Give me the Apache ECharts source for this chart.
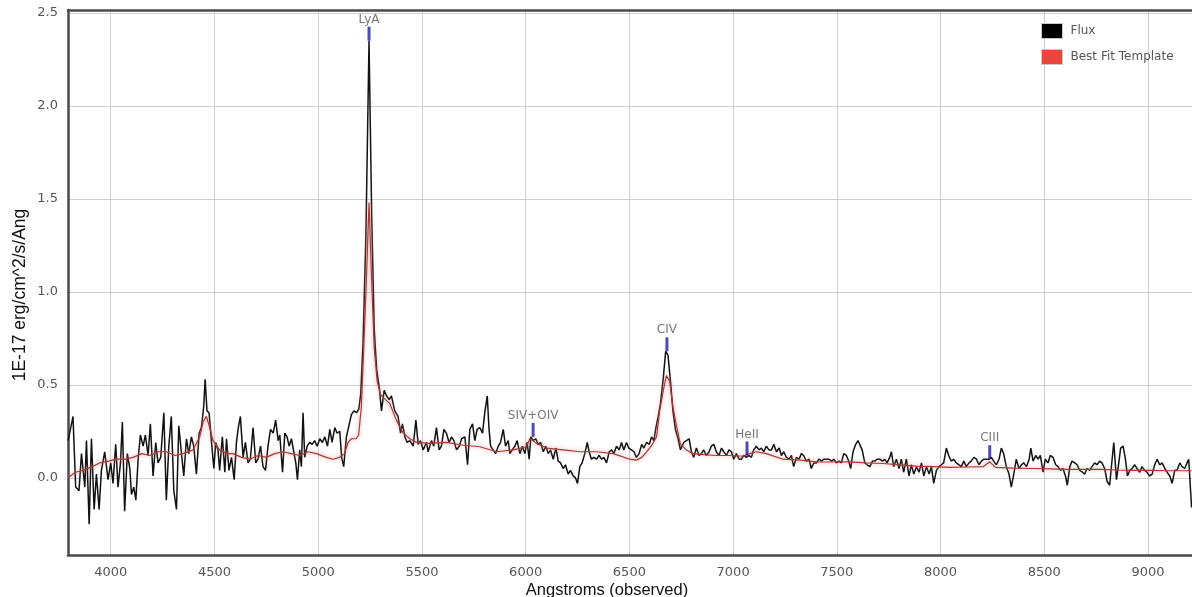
<!DOCTYPE html>
<html><head><meta charset="utf-8">
<script src="https://cdn.jsdelivr.net/npm/echarts@6/dist/echarts.min.js"></script>
<style>html,body{margin:0;padding:0;background:#fff}#c{width:1192px;height:597px}</style>
</head><body><div id="c"></div>
<script>
// Observed wavelength (Angstrom) and flux (1E-17 erg/cm^2/s/Ang)
const fluxWave = [3794,3802,3818,3831,3847,3859,3875,3883,3896,3907,3920,3931,3944,3955,3971,3987,4000,4011,4024,4035,4047,4056,4067,4080,4092,4100,4111,4121,4132,4143,4156,4167,4180,4191,4204,4217,4228,4241,4256,4268,4280,4292,4304,4317,4328,4341,4352,4365,4376,4389,4400,4413,4426,4437,4448,4455,4464,4474,4485,4497,4506,4517,4525,4538,4550,4558,4570,4582,4595,4606,4615,4625,4638,4649,4662,4673,4686,4699,4710,4722,4734,4746,4758,4770,4783,4795,4807,4815,4828,4839,4850,4860,4871,4879,4892,4900,4911,4919,4927,4935,4947,4959,4971,4983,4995,5008,5020,5032,5045,5056,5067,5080,5091,5104,5113,5123,5136,5146,5160,5172,5185,5196,5205,5216,5230,5245,5258,5270,5282,5295,5305,5318,5330,5342,5353,5361,5369,5385,5397,5406,5418,5429,5442,5458,5471,5482,5493,5506,5522,5530,5546,5557,5570,5583,5594,5606,5618,5631,5643,5654,5667,5680,5691,5707,5720,5731,5744,5755,5766,5779,5792,5803,5815,5823,5831,5843,5855,5868,5879,5892,5903,5916,5924,5935,5948,5959,5972,5985,5996,6007,6017,6025,6036,6049,6060,6072,6085,6097,6109,6120,6133,6146,6157,6168,6181,6192,6205,6216,6229,6240,6250,6261,6272,6285,6297,6306,6317,6329,6342,6354,6366,6377,6390,6403,6414,6425,6438,6451,6462,6473,6486,6497,6510,6522,6534,6547,6559,6570,6583,6596,6607,6618,6628,6639,6650,6662,6675,6686,6698,6710,6722,6735,6746,6762,6775,6788,6799,6810,6823,6836,6847,6858,6871,6884,6895,6907,6919,6932,6944,6955,6968,6980,6992,7003,7016,7029,7040,7051,7064,7077,7088,7099,7112,7125,7136,7148,7160,7173,7185,7196,7209,7222,7233,7244,7257,7270,7281,7292,7305,7318,7329,7340,7353,7366,7377,7389,7402,7414,7426,7437,7450,7463,7474,7485,7498,7511,7522,7533,7546,7557,7567,7578,7591,7602,7610,7622,7635,7646,7659,7672,7683,7694,7707,7720,7731,7742,7755,7763,7774,7787,7800,7811,7822,7835,7848,7859,7871,7884,7896,7908,7919,7932,7945,7956,7967,7980,7993,8004,8015,8028,8039,8052,8063,8076,8089,8100,8112,8124,8137,8148,8160,8173,8185,8197,8208,8221,8234,8245,8256,8269,8282,8293,8304,8317,8330,8341,8353,8365,8378,8390,8401,8414,8427,8435,8446,8459,8470,8481,8494,8505,8518,8529,8542,8555,8566,8578,8590,8602,8611,8623,8634,8647,8658,8671,8684,8695,8706,8719,8730,8743,8754,8767,8778,8791,8803,8815,8827,8835,8848,8859,8868,8880,8891,8901,8912,8923,8936,8947,8960,8971,8984,8995,9008,9020,9032,9044,9056,9068,9081,9092,9105,9116,9129,9140,9153,9164,9177,9188,9196,9203,9210];
const fluxValue = [0.20,0.24,0.33,-0.05,-0.07,0.13,-0.05,0.20,-0.25,0.21,-0.17,0.02,-0.17,0.04,0.14,-0.01,0.08,-0.03,0.18,-0.05,0.08,0.30,-0.18,0.13,0.05,-0.09,-0.05,-0.12,0.10,0.23,0.17,0.23,0.12,0.29,0.01,0.19,0.08,0.11,0.35,-0.12,0.17,0.33,-0.07,-0.17,0.28,0.13,0.01,0.21,0.13,0.22,0.17,0.02,0.24,0.27,0.38,0.53,0.36,0.35,0.20,0.05,0.19,0.15,0.04,0.22,0.03,0.21,0.04,0.11,-0.01,0.19,0.27,0.33,0.11,0.19,0.08,0.10,0.27,0.08,0.10,0.17,0.06,0.04,0.17,0.26,0.24,0.31,0.20,0.23,0.03,0.24,0.22,0.17,0.21,0.20,0.08,-0.01,0.15,0.06,0.35,0.11,0.17,0.19,0.18,0.20,0.17,0.21,0.19,0.22,0.17,0.26,0.19,0.27,0.24,0.25,0.11,0.06,0.22,0.27,0.34,0.36,0.35,0.37,0.45,0.72,1.30,2.35,1.40,0.80,0.58,0.48,0.36,0.47,0.44,0.42,0.44,0.40,0.36,0.33,0.24,0.29,0.22,0.19,0.20,0.17,0.31,0.18,0.20,0.15,0.19,0.14,0.20,0.17,0.27,0.15,0.17,0.26,0.24,0.19,0.22,0.20,0.15,0.17,0.21,0.22,0.07,0.26,0.29,0.20,0.26,0.27,0.24,0.35,0.44,0.27,0.17,0.15,0.13,0.17,0.19,0.26,0.17,0.20,0.13,0.15,0.17,0.20,0.13,0.17,0.13,0.19,0.10,0.22,0.20,0.21,0.18,0.19,0.14,0.17,0.13,0.15,0.10,0.16,0.09,0.08,0.05,0.07,0.02,0.04,0.01,0.00,-0.03,0.06,0.08,0.13,0.19,0.14,0.10,0.11,0.10,0.12,0.10,0.11,0.08,0.14,0.15,0.13,0.17,0.15,0.19,0.15,0.19,0.16,0.15,0.14,0.11,0.13,0.18,0.16,0.19,0.18,0.22,0.20,0.27,0.33,0.40,0.52,0.68,0.66,0.52,0.36,0.26,0.21,0.15,0.19,0.20,0.21,0.14,0.11,0.16,0.12,0.13,0.15,0.12,0.14,0.17,0.18,0.14,0.12,0.16,0.14,0.12,0.15,0.14,0.10,0.13,0.10,0.10,0.12,0.11,0.12,0.11,0.15,0.17,0.15,0.16,0.14,0.17,0.15,0.15,0.18,0.14,0.16,0.12,0.14,0.11,0.10,0.12,0.06,0.11,0.10,0.13,0.12,0.09,0.10,0.05,0.08,0.08,0.10,0.09,0.10,0.10,0.10,0.09,0.10,0.08,0.09,0.08,0.13,0.12,0.09,0.05,0.14,0.18,0.20,0.21,0.15,0.08,0.07,0.06,0.09,0.09,0.10,0.10,0.09,0.10,0.08,0.11,0.14,0.06,0.10,0.05,0.10,0.03,0.10,0.01,0.07,0.02,0.06,0.03,0.08,0.01,0.06,0.02,0.06,-0.03,0.04,0.06,0.07,0.08,0.16,0.12,0.09,0.10,0.08,0.07,0.06,0.09,0.06,0.08,0.09,0.11,0.10,0.07,0.09,0.10,0.10,0.10,0.11,0.09,0.07,0.10,0.16,0.13,0.06,0.02,-0.05,0.02,0.10,0.05,0.07,0.08,0.06,0.10,0.16,0.09,0.12,0.10,0.12,0.03,0.10,0.08,0.12,0.11,0.07,0.06,0.04,0.05,0.01,-0.04,0.06,0.09,0.08,0.07,0.04,0.03,0.02,0.05,0.04,0.06,0.08,0.07,0.09,0.08,0.05,-0.02,-0.04,0.10,0.19,-0.01,0.08,0.16,0.17,0.10,0.01,0.04,0.05,0.07,0.05,0.03,0.06,0.04,0.03,0.01,0.02,0.07,0.10,0.07,0.08,0.05,0.03,0.01,-0.03,0.04,0.04,0.08,0.06,0.05,0.08,0.10,0.10,-0.16];

const templateWave = [3794,3830,3867,3910,3947,3990,4027,4070,4108,4150,4188,4230,4268,4310,4349,4397,4429,4445,4461,4477,4493,4525,4560,4590,4630,4670,4710,4750,4790,4831,4870,4911,4950,4992,5039,5071,5103,5127,5144,5160,5183,5195,5208,5218,5232,5245,5258,5270,5284,5300,5315,5345,5377,5410,5442,5474,5538,5618,5699,5779,5860,5940,6004,6020,6035,6052,6101,6181,6261,6342,6422,6502,6534,6560,6583,6605,6631,6646,6662,6678,6694,6710,6727,6746,6775,6807,6860,6919,6980,7048,7080,7112,7160,7241,7321,7402,7482,7562,7640,7723,7800,7884,7960,8044,8130,8205,8237,8265,8350,8446,8530,8607,8690,8768,8850,8928,9010,9089,9150,9210];
const templateValue = [0.00,0.03,0.04,0.06,0.08,0.09,0.10,0.10,0.11,0.13,0.12,0.14,0.14,0.12,0.13,0.15,0.22,0.30,0.33,0.27,0.20,0.15,0.13,0.13,0.11,0.10,0.12,0.11,0.13,0.14,0.13,0.12,0.14,0.13,0.11,0.10,0.11,0.13,0.19,0.21,0.21,0.23,0.38,0.65,1.05,1.48,1.05,0.70,0.52,0.45,0.43,0.40,0.31,0.24,0.21,0.19,0.185,0.19,0.175,0.167,0.14,0.15,0.167,0.21,0.20,0.185,0.16,0.15,0.14,0.14,0.13,0.10,0.095,0.11,0.14,0.17,0.22,0.36,0.46,0.55,0.52,0.38,0.28,0.18,0.15,0.13,0.125,0.12,0.12,0.116,0.13,0.14,0.13,0.10,0.095,0.086,0.085,0.086,0.08,0.077,0.07,0.063,0.06,0.056,0.058,0.06,0.086,0.056,0.052,0.05,0.048,0.045,0.045,0.045,0.042,0.04,0.04,0.038,0.038,0.038];

const lineNames = ['LyA', 'SIV+OIV', 'CIV', 'HeII', 'CIII'];
const lineWave = [5245, 6036, 6681, 7067, 8237];
const lineValue = [2.35, 0.22, 0.68, 0.12, 0.10];

const xTicks = [4000, 4500, 5000, 5500, 6000, 6500, 7000, 7500, 8000, 8500, 9000];
const yTicks = [0, 0.5, 1, 1.5, 2, 2.5];

const fluxData = fluxWave.map((w, i) => [w, fluxValue[i]]);
const templateData = templateWave.map((w, i) => [w, templateValue[i]]);
const lineData = lineNames.map((n, i) => ({ name: n, value: [lineWave[i], lineValue[i]] }));

const X_MIN = 3794, X_MAX = 9212, Y_MIN = -0.415, Y_MAX = 2.515;
const border = { show: true, onZero: false, lineStyle: { color: '#4a4a4a', width: 2.5 } };
const chart = echarts.init(document.getElementById('c'), null, { renderer: 'canvas' });
const tickFont = { fontFamily: 'DejaVu Sans', fontSize: 13, color: '#555' };
chart.setOption({
  animation: false,
  backgroundColor: '#fff',
  grid: { left: 68, right: 0, top: 10, bottom: 42, show: false },
  xAxis: [{
    type: 'value', min: X_MIN, max: X_MAX, position: 'bottom',
    axisLine: border, axisTick: { show: false, customValues: xTicks },
    axisLabel: Object.assign({ customValues: xTicks, margin: 11, formatter: v => String(v) }, tickFont),
    splitLine: { show: true, lineStyle: { color: '#cfcfcf', width: 1 } }
  }, {
    type: 'value', min: X_MIN, max: X_MAX, position: 'top',
    axisLine: border, axisTick: { show: false }, axisLabel: { show: false }, splitLine: { show: false }
  }],
  yAxis: {
    type: 'value', min: Y_MIN, max: Y_MAX,
    axisLine: border, axisTick: { show: false, customValues: yTicks },
    axisLabel: Object.assign({ customValues: yTicks, margin: 10, formatter: v => v.toFixed(1) }, tickFont),
    splitLine: { show: true, lineStyle: { color: '#cfcfcf', width: 1 } }
  },
  legend: {
    data: ['Flux', 'Best Fit Template'], orient: 'vertical', left: 1041, top: 23, padding: 0,
    itemWidth: 21, itemHeight: 15, itemGap: 10, icon: 'rect',
    itemStyle: { borderColor: '#c8c8c8', borderWidth: 1 },
    textStyle: { fontFamily: 'DejaVu Sans', fontSize: 12, color: '#545454', padding: [0, 0, 0, 3] }
  },
  graphic: [
    { type: 'text', x: 20, y: 295, rotation: Math.PI / 2, style: { text: '1E-17 erg/cm^2/s/Ang', font: '17.5px "Liberation Sans"', fill: '#111', align: 'center', verticalAlign: 'middle' } },
    { type: 'text', x: 607, y: 590, style: { text: 'Angstroms (observed)', font: '16.5px "Liberation Sans"', fill: '#111', align: 'center', verticalAlign: 'middle' } }
  ],
  series: [
    { name: 'Flux', type: 'line', data: fluxData, showSymbol: false, symbol: 'none',
      itemStyle: { color: '#000' }, lineStyle: { color: '#111', width: 1.5 }, z: 2 },
    { name: 'Best Fit Template', type: 'line', data: templateData, showSymbol: false, symbol: 'none',
      itemStyle: { color: '#e8453c' },
      lineStyle: { color: '#a83a36', width: 1.2, shadowColor: 'rgba(230,130,130,0.95)', shadowBlur: 4 }, z: 3 },
    { name: 'lines', type: 'scatter', data: lineData, symbol: 'rect', symbolSize: [3, 14], symbolOffset: [0, -7],
      itemStyle: { color: '#1f1fa0' }, z: 4,
      label: { show: true, position: 'top', distance: 1, formatter: p => p.name, fontFamily: 'DejaVu Sans', fontSize: 12, color: '#555' } }
  ]
});
</script></body></html>
